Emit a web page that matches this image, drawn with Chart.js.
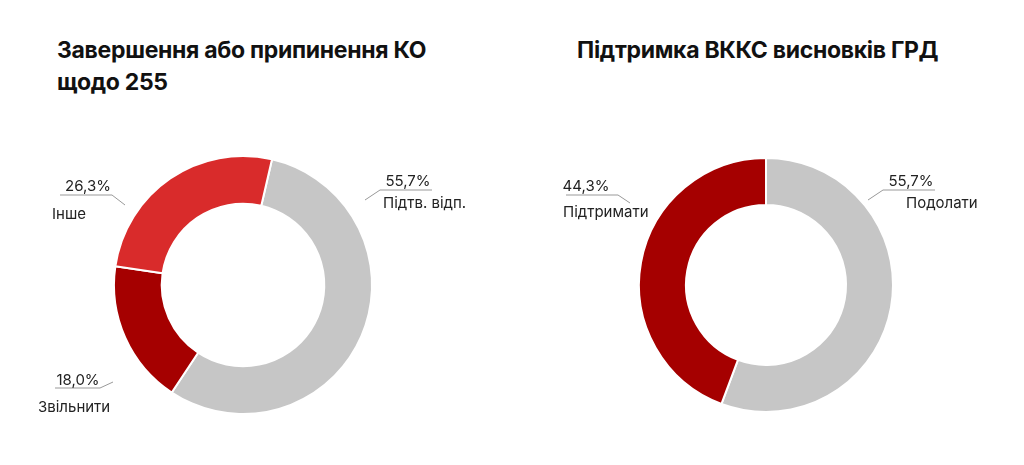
<!DOCTYPE html>
<html><head><meta charset="utf-8">
<script src="https://cdn.jsdelivr.net/npm/chart.js@4"></script>
<style>
body{margin:0;width:1024px;height:465px;background:#fff;position:relative;overflow:hidden;font-family:Inter,"Noto Sans",sans-serif}
.t{position:absolute;font-weight:700;font-size:23px;line-height:32px;color:#111;letter-spacing:-0.3px}
canvas{position:absolute;top:0}
</style></head><body>
<div class="t" style="left:57px;top:34px">Завершення або припинення КО<br>щодо 255</div>
<div class="t" style="left:577px;top:34px">Підтримка ВККС висновків ГРД</div>
<div style="position:absolute;left:0;top:0;width:512px;height:465px"><canvas id="c1"></canvas></div>
<div style="position:absolute;left:512px;top:0;width:512px;height:465px"><canvas id="c2"></canvas></div>
<script>
const leftCategories = ["Підтв. відп.", "Звільнити", "Інше"];
const leftValues = [55.7, 18.0, 26.3];
const rightCategories = ["Подолати", "Підтримати"];
const rightValues = [55.7, 44.3];

const fmt = v => v.toFixed(1).replace('.', ',') + '%';

// label geometry: start point (dx,dy from centre), elbow, horizontal end, text positions
const leftLabels = [
  {s:[122,-85], e:[137,-95], h:[189,-95], p:[165,-104,'center'], n:[140,-82,'left']},
  {s:[-130,97], e:[-143,103], h:[-188,103], p:[-165,95,'center'], n:[-205,122,'left']},
  {s:[-118,-80], e:[-131,-90], h:[-183,-90], p:[-155,-99,'center'], n:[-191,-71,'left']}
];
const rightLabels = [
  {s:[102,-85], e:[117,-95], h:[169,-95], p:[145,-104,'center'], n:[140,-82,'left']},
  {s:[-136,-82], e:[-148,-90], h:[-200,-90], p:[-180,-99,'center'], n:[-203,-73,'left']}
];

const labelPlugin = {
  id:'lbl',
  afterDatasetsDraw(chart, args, opts){
    const ctx = chart.ctx;
    const arc = chart.getDatasetMeta(0).data[0];
    const cx = arc.x, cy = arc.y;
    const ds = chart.data.datasets[0].data;
    ctx.save();
    opts.cfg.forEach((L,i)=>{
      ctx.strokeStyle='#999';ctx.lineWidth=1;
      ctx.beginPath();ctx.moveTo(cx+L.s[0],cy+L.s[1]);ctx.lineTo(cx+L.e[0],cy+L.e[1]);ctx.lineTo(cx+L.h[0],cy+L.h[1]);ctx.stroke();
      ctx.fillStyle='#222';ctx.font='15px Inter, "Noto Sans", sans-serif';ctx.textBaseline='middle';
      ctx.textAlign=L.p[2];ctx.fillText(fmt(ds[i]),cx+L.p[0],cy+L.p[1]);
      ctx.textAlign=L.n[2];ctx.fillText(chart.data.labels[i],cx+L.n[0],cy+L.n[1]);
    });
    ctx.restore();
  }
};

function make(id, labels, values, colors, rot, pad, cfg){
  new Chart(document.getElementById(id),{
    type:'doughnut',
    data:{labels, datasets:[{data:values, backgroundColor:colors, borderColor:'#fff', borderWidth:2}]},
    options:{responsive:true, maintainAspectRatio:false, animation:false, rotation:rot, cutout:'63%',
      layout:{padding:pad},
      plugins:{legend:{display:false}, tooltip:{enabled:false}, lbl:{cfg}}},
    plugins:[labelPlugin]
  });
}
make('c1', leftCategories, leftValues, ['#c6c6c6','#a50000','#d92b2b'], 13, {top:155,bottom:50,left:113,right:139}, leftLabels);
make('c2', rightCategories, rightValues, ['#c6c6c6','#a50000'], 0, {top:155,bottom:50,left:126,right:130}, rightLabels);
</script>
</body></html>
